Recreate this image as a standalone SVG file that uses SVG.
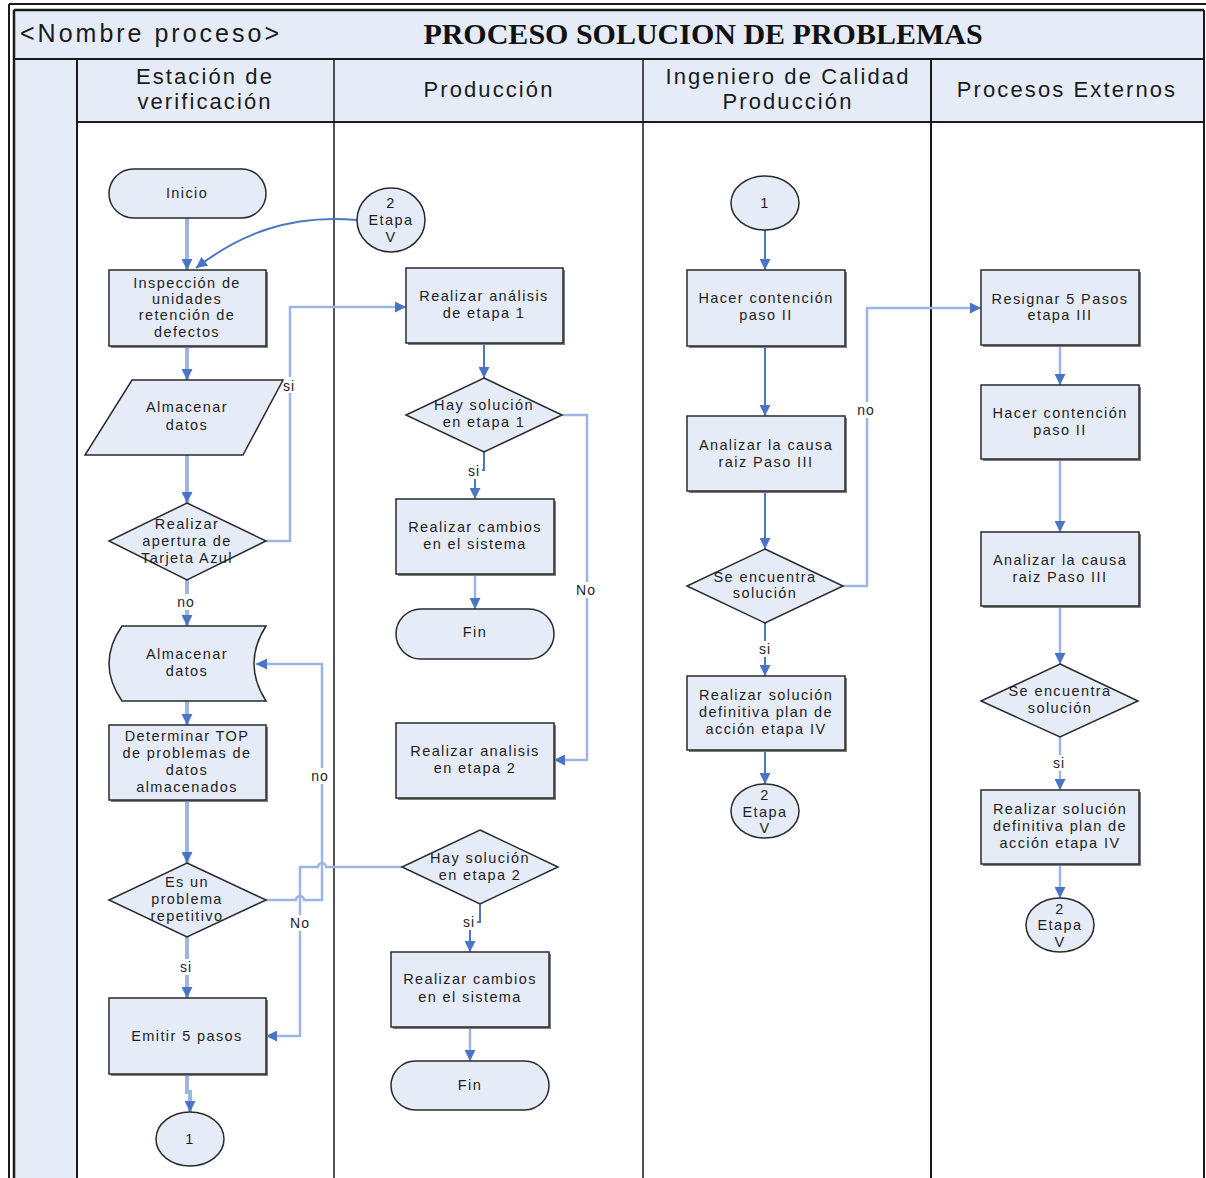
<svg xmlns="http://www.w3.org/2000/svg" width="1206" height="1178" viewBox="0 0 1206 1178">
  <style>
    .band{fill:#E6ECF7}
    .frame{fill:none;stroke:#1a1a1a;stroke-width:2}
    .node{fill:#E6ECF7;stroke:#2a2a2a;stroke-width:1.5}
    .shadow{fill:#7d7d7d}
    .t{font-family:"Liberation Sans",Arial,sans-serif;font-size:14.5px;letter-spacing:1.4px;fill:#1e1e1e;text-anchor:middle}
    .hdr{font-family:"Liberation Sans",Arial,sans-serif;font-size:22px;letter-spacing:2.1px;fill:#1a1a1a;text-anchor:middle}
    .lbl{font-family:"Liberation Sans",Arial,sans-serif;font-size:14px;letter-spacing:1px;fill:#1e1e1e;text-anchor:middle}
    .lblbg{fill:#ffffff}
    .wide{fill:none;stroke:#9DB5E2;stroke-width:4}
    .thin{fill:none;stroke:#4A76C6;stroke-width:2}
    .pale{fill:none;stroke:#9DB5E2;stroke-width:2.5}
    .arr{marker-end:url(#ah)}
  </style>
  <defs>
    <marker id="ah" viewBox="0 0 10 10" refX="10" refY="5" markerWidth="12" markerHeight="11" markerUnits="userSpaceOnUse" orient="auto">
      <path d="M0,0 L10,5 L0,10 z" fill="#4A74C6"/>
    </marker>
  </defs>

  <rect width="1206" height="1178" fill="#ffffff"/>

  <!-- swimlane frame -->
  <g id="frame">
    <rect class="band" x="14" y="10" width="1190" height="112"/>
    <rect class="band" x="14" y="122" width="63" height="1056"/>
    <line x1="9" y1="4" x2="1206" y2="4" stroke="#1a1a1a" stroke-width="2"/>
    <line x1="9" y1="4" x2="9" y2="1178" stroke="#1a1a1a" stroke-width="2"/>
    <line x1="14" y1="10" x2="1204" y2="10" stroke="#1a1a1a" stroke-width="2.5"/>
    <line x1="14" y1="10" x2="14" y2="1178" stroke="#1a1a1a" stroke-width="2.5"/>
    <line x1="1204" y1="10" x2="1204" y2="1178" stroke="#1a1a1a" stroke-width="2"/>
    <line x1="14" y1="59" x2="1204" y2="59" stroke="#1a1a1a" stroke-width="2"/>
    <line x1="77" y1="122" x2="1204" y2="122" stroke="#1a1a1a" stroke-width="2"/>
    <line x1="77" y1="59" x2="77" y2="1178" stroke="#1a1a1a" stroke-width="2"/>
    <line x1="334" y1="59" x2="334" y2="1178" stroke="#1a1a1a" stroke-width="1.5"/>
    <line x1="643" y1="59" x2="643" y2="1178" stroke="#1a1a1a" stroke-width="1.5"/>
    <line x1="931" y1="59" x2="931" y2="1178" stroke="#1a1a1a" stroke-width="2"/>
    <text x="20" y="42" font-family="'Liberation Sans',Arial,sans-serif" font-size="25" letter-spacing="3" fill="#1a1a1a">&lt;Nombre proceso&gt;</text>
    <text x="703" y="44" font-family="'Liberation Serif','Times New Roman',serif" font-size="30" font-weight="bold" fill="#111" text-anchor="middle">PROCESO SOLUCION DE PROBLEMAS</text>
    <text class="hdr" x="205" y="84">Estación de</text>
    <text class="hdr" x="205" y="109">verificación</text>
    <text class="hdr" x="489" y="97">Producción</text>
    <text class="hdr" x="788" y="84">Ingeniero de Calidad</text>
    <text class="hdr" x="788" y="109">Producción</text>
    <text class="hdr" x="1067" y="97">Procesos Externos</text>
  </g>

  <!-- connectors -->
  <g id="connectors">
    <!-- Estación de verificación -->
    <path class="wide arr" d="M187,218 V270"/>
    <path class="thin arr" d="M357,220 C290,214 240,234 196,268" stroke-width="1.2"/>
    <path class="wide arr" d="M187,346 V380"/>
    <path class="wide arr" d="M187,455 V503"/>
    <path class="pale arr" d="M266,541 H290 V307 H406" stroke="#7A9BD6"/>
    <path class="wide arr" d="M187,580 V626"/>
    <path class="wide arr" d="M187,701 V725"/>
    <path class="wide arr" d="M187,800 V863"/>
    <path class="wide arr" d="M187,937 V998"/>
    <path class="wide arr" d="M187,1074 V1092 H190 V1112"/>
    <path class="pale arr" d="M266,900 H296 A4,4 0 0 1 304,900 H322 V664 H256" stroke="#7A9BD6"/>
    <path class="pale arr" d="M402,867 H326 A4,4 0 0 0 318,867 H300 V1036 H266" stroke="#7A9BD6" stroke-width="1.6"/>
    <!-- Producción -->
    <path class="thin arr" d="M484,343 V378"/>
    <path class="thin arr" d="M484,452 V470 H475 V499"/>
    <path class="pale arr" d="M562,415 H587 V760 H554"/>
    <path class="pale arr" d="M475,574 V609"/>
    <path class="thin arr" d="M480,904 V922 H470 V952"/>
    <path class="pale arr" d="M470,1027 V1061"/>
    <!-- Ingeniero de Calidad -->
    <path class="thin arr" d="M765,230 V270"/>
    <path class="thin arr" d="M765,346 V416"/>
    <path class="thin arr" d="M765,491 V549"/>
    <path class="thin arr" d="M765,623 V676"/>
    <path class="thin arr" d="M765,750 V784"/>
    <path class="pale arr" d="M843,586 H867 V308 H981" stroke="#7A9BD6" stroke-width="1.8"/>
    <!-- Procesos Externos -->
    <path class="pale arr" d="M1060,345 V385" stroke-width="3"/>
    <path class="pale arr" d="M1060,459 V532" stroke-width="3"/>
    <path class="pale arr" d="M1060,606 V664" stroke-width="3"/>
    <path class="pale arr" d="M1060,737 V790" stroke-width="3"/>
    <path class="pale arr" d="M1060,864 V898" stroke-width="3"/>
    <!-- branch labels -->
    <rect class="lblbg" x="281" y="377" width="16" height="16"/><text class="lbl" x="289" y="391">si</text>
    <rect class="lblbg" x="174" y="594" width="25" height="16"/><text class="lbl" x="186" y="607">no</text>
    <rect class="lblbg" x="308" y="768" width="25" height="16"/><text class="lbl" x="320" y="781">no</text>
    <rect class="lblbg" x="287" y="915" width="27" height="16"/><text class="lbl" x="300" y="928">No</text>
    <rect class="lblbg" x="178" y="959" width="16" height="16"/><text class="lbl" x="186" y="972">si</text>
    <rect class="lblbg" x="466" y="463" width="16" height="16"/><text class="lbl" x="474" y="476">si</text>
    <rect class="lblbg" x="573" y="582" width="27" height="16"/><text class="lbl" x="586" y="595">No</text>
    <rect class="lblbg" x="461" y="914" width="16" height="16"/><text class="lbl" x="469" y="927">si</text>
    <rect class="lblbg" x="854" y="402" width="25" height="16"/><text class="lbl" x="866" y="415">no</text>
    <rect class="lblbg" x="757" y="641" width="16" height="16"/><text class="lbl" x="765" y="654">si</text>
    <rect class="lblbg" x="1051" y="755" width="16" height="16"/><text class="lbl" x="1059" y="768">si</text>
  </g>

  <!-- Estación de verificación nodes -->
  <g id="inicio">
    <rect class="node" x="109" y="169" width="157" height="49" rx="24.5"/>
    <text class="t" x="187" y="198">Inicio</text>
  </g>
  <g id="conector-2-etapa-v-a">
    <ellipse class="node" cx="391" cy="220" rx="34" ry="32"/>
    <text class="t" x="391" y="208">2</text>
    <text class="t" x="391" y="225">Etapa</text>
    <text class="t" x="391" y="242">V</text>
  </g>
  <g id="inspeccion">
    <rect class="shadow" x="111" y="272" width="157" height="76"/>
    <rect class="node" x="109" y="270" width="157" height="76"/>
    <text class="t" x="187" y="288">Inspección de</text>
    <text class="t" x="187" y="304">unidades</text>
    <text class="t" x="187" y="320">retención de</text>
    <text class="t" x="187" y="337">defectos</text>
  </g>
  <g id="almacenar-datos-1">
    <path class="node" d="M132,380 H283 L243,455 H85 Z"/>
    <text class="t" x="187" y="412">Almacenar</text>
    <text class="t" x="187" y="430">datos</text>
  </g>
  <g id="tarjeta-azul">
    <path class="node" d="M187,503 L266,541 L187,580 L109,541 Z"/>
    <text class="t" x="187" y="529">Realizar</text>
    <text class="t" x="187" y="546">apertura de</text>
    <text class="t" x="187" y="563">Tarjeta Azul</text>
  </g>
  <g id="almacenar-datos-2">
    <path class="node" d="M122,626 H266 Q242,663.5 266,701 H122 Q96,663.5 122,626 Z"/>
    <text class="t" x="187" y="659">Almacenar</text>
    <text class="t" x="187" y="676">datos</text>
  </g>
  <g id="determinar-top">
    <rect class="shadow" x="111" y="727" width="157" height="75"/>
    <rect class="node" x="109" y="725" width="157" height="75"/>
    <text class="t" x="187" y="741">Determinar TOP</text>
    <text class="t" x="187" y="758">de problemas de</text>
    <text class="t" x="187" y="775">datos</text>
    <text class="t" x="187" y="792">almacenados</text>
  </g>
  <g id="problema-repetitivo">
    <path class="node" d="M187,863 L266,900 L187,937 L109,900 Z"/>
    <text class="t" x="187" y="887">Es un</text>
    <text class="t" x="187" y="904">problema</text>
    <text class="t" x="187" y="921">repetitivo</text>
  </g>
  <g id="emitir-5-pasos">
    <rect class="shadow" x="111" y="1000" width="157" height="76"/>
    <rect class="node" x="109" y="998" width="157" height="76"/>
    <text class="t" x="187" y="1041">Emitir 5 pasos</text>
  </g>
  <g id="conector-1-a">
    <ellipse class="node" cx="190" cy="1139" rx="34" ry="27"/>
    <text class="t" x="190" y="1144">1</text>
  </g>

  <!-- Producción nodes -->
  <g id="analisis-etapa-1">
    <rect class="shadow" x="408" y="270" width="157" height="75"/>
    <rect class="node" x="406" y="268" width="157" height="75"/>
    <text class="t" x="484" y="301">Realizar análisis</text>
    <text class="t" x="484" y="318">de etapa 1</text>
  </g>
  <g id="solucion-etapa-1">
    <path class="node" d="M484,378 L562,415 L484,452 L406,415 Z"/>
    <text class="t" x="484" y="410">Hay solución</text>
    <text class="t" x="484" y="427">en etapa 1</text>
  </g>
  <g id="cambios-sistema-1">
    <rect class="shadow" x="398" y="501" width="158" height="75"/>
    <rect class="node" x="396" y="499" width="158" height="75"/>
    <text class="t" x="475" y="532">Realizar cambios</text>
    <text class="t" x="475" y="549">en el sistema</text>
  </g>
  <g id="fin-1">
    <rect class="node" x="396" y="609" width="158" height="50" rx="25"/>
    <text class="t" x="475" y="637">Fin</text>
  </g>
  <g id="analisis-etapa-2">
    <rect class="shadow" x="398" y="725" width="158" height="75"/>
    <rect class="node" x="396" y="723" width="158" height="75"/>
    <text class="t" x="475" y="756">Realizar analisis</text>
    <text class="t" x="475" y="773">en etapa 2</text>
  </g>
  <g id="solucion-etapa-2">
    <path class="node" d="M480,830 L558,867 L480,904 L402,867 Z"/>
    <text class="t" x="480" y="863">Hay solución</text>
    <text class="t" x="480" y="880">en etapa 2</text>
  </g>
  <g id="cambios-sistema-2">
    <rect class="shadow" x="393" y="954" width="158" height="75"/>
    <rect class="node" x="391" y="952" width="158" height="75"/>
    <text class="t" x="470" y="984">Realizar cambios</text>
    <text class="t" x="470" y="1002">en el sistema</text>
  </g>
  <g id="fin-2">
    <rect class="node" x="391" y="1061" width="158" height="49" rx="24.5"/>
    <text class="t" x="470" y="1090">Fin</text>
  </g>

  <!-- Ingeniero de Calidad nodes -->
  <g id="conector-1-b">
    <ellipse class="node" cx="765" cy="203" rx="34" ry="27"/>
    <text class="t" x="765" y="208">1</text>
  </g>
  <g id="contencion-ing">
    <rect class="shadow" x="689" y="272" width="158" height="76"/>
    <rect class="node" x="687" y="270" width="158" height="76"/>
    <text class="t" x="766" y="303">Hacer contención</text>
    <text class="t" x="766" y="320">paso II</text>
  </g>
  <g id="causa-raiz-ing">
    <rect class="shadow" x="689" y="418" width="158" height="75"/>
    <rect class="node" x="687" y="416" width="158" height="75"/>
    <text class="t" x="766" y="450">Analizar la causa</text>
    <text class="t" x="766" y="467">raiz Paso III</text>
  </g>
  <g id="se-encuentra-ing">
    <path class="node" d="M765,549 L843,586 L765,623 L687,586 Z"/>
    <text class="t" x="765" y="582">Se encuentra</text>
    <text class="t" x="765" y="598">solución</text>
  </g>
  <g id="solucion-definitiva-ing">
    <rect class="shadow" x="689" y="678" width="158" height="74"/>
    <rect class="node" x="687" y="676" width="158" height="74"/>
    <text class="t" x="766" y="700">Realizar solución</text>
    <text class="t" x="766" y="717">definitiva plan de</text>
    <text class="t" x="766" y="734">acción etapa IV</text>
  </g>
  <g id="conector-2-etapa-v-b">
    <ellipse class="node" cx="765" cy="811" rx="34" ry="27"/>
    <text class="t" x="765" y="800">2</text>
    <text class="t" x="765" y="817">Etapa</text>
    <text class="t" x="765" y="833">V</text>
  </g>

  <!-- Procesos Externos nodes -->
  <g id="resignar-5-pasos">
    <rect class="shadow" x="983" y="272" width="158" height="75"/>
    <rect class="node" x="981" y="270" width="158" height="75"/>
    <text class="t" x="1060" y="304">Resignar 5 Pasos</text>
    <text class="t" x="1060" y="320">etapa III</text>
  </g>
  <g id="contencion-ext">
    <rect class="shadow" x="983" y="387" width="158" height="74"/>
    <rect class="node" x="981" y="385" width="158" height="74"/>
    <text class="t" x="1060" y="418">Hacer contención</text>
    <text class="t" x="1060" y="435">paso II</text>
  </g>
  <g id="causa-raiz-ext">
    <rect class="shadow" x="983" y="534" width="158" height="74"/>
    <rect class="node" x="981" y="532" width="158" height="74"/>
    <text class="t" x="1060" y="565">Analizar la causa</text>
    <text class="t" x="1060" y="582">raiz Paso III</text>
  </g>
  <g id="se-encuentra-ext">
    <path class="node" d="M1060,664 L1138,701 L1060,737 L981,701 Z"/>
    <text class="t" x="1060" y="696">Se encuentra</text>
    <text class="t" x="1060" y="713">solución</text>
  </g>
  <g id="solucion-definitiva-ext">
    <rect class="shadow" x="983" y="792" width="158" height="74"/>
    <rect class="node" x="981" y="790" width="158" height="74"/>
    <text class="t" x="1060" y="814">Realizar solución</text>
    <text class="t" x="1060" y="831">definitiva plan de</text>
    <text class="t" x="1060" y="848">acción etapa IV</text>
  </g>
  <g id="conector-2-etapa-v-c">
    <ellipse class="node" cx="1060" cy="925" rx="34" ry="27"/>
    <text class="t" x="1060" y="914">2</text>
    <text class="t" x="1060" y="930">Etapa</text>
    <text class="t" x="1060" y="947">V</text>
  </g>
</svg>
